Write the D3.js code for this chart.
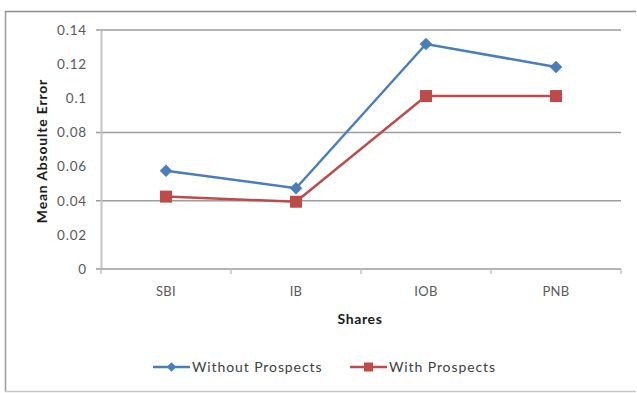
<!DOCTYPE html>
<html>
<head>
<meta charset="utf-8">
<script src="https://cdn.jsdelivr.net/npm/d3@7"></script>
<style>
  body { margin: 0; background: #fff; }
  text { font-family: Lato, "Open Sans", sans-serif; }
</style>
</head>
<body>
<script>
// Les données
var shares = ["SBI", "IB", "IOB", "PNB"];
var withoutProspects = [0.0576, 0.0473, 0.1318, 0.1183];
var withProspects = [0.0424, 0.0394, 0.1013, 0.1013];
var yTicks = [0, 0.02, 0.04, 0.06, 0.08, 0.1, 0.12, 0.14];
var gridTicks = [0.04, 0.08, 0.14];

var series = [
  {name: "Without Prospects", values: withoutProspects, color: "#4a7ebb", marker: "diamond"},
  {name: "With Prospects", values: withProspects, color: "#be4b48", marker: "square"}
];

var W = 637, H = 393;
var plot = {left: 101, right: 621, top: 30, bottom: 269};

var svg = d3.select("body").append("svg")
            .attr("width", W)
            .attr("height", H);

// cadre extérieur
svg.append("line").attr("x1", 5).attr("x2", 636).attr("y1", 11.5).attr("y2", 11.5)
   .attr("stroke", "#8a8a8a").attr("stroke-width", 1.5);
svg.append("line").attr("x1", 5.5).attr("x2", 5.5).attr("y1", 11).attr("y2", 392)
   .attr("stroke", "#9a9a9a").attr("stroke-width", 1.5);
svg.append("line").attr("x1", 5).attr("x2", 636).attr("y1", 391.5).attr("y2", 391.5)
   .attr("stroke", "#c8c8c8").attr("stroke-width", 1.5);

var x = d3.scaleBand().domain(shares).range([plot.left, plot.right]);
var y = d3.scaleLinear().domain([0, 0.14]).range([plot.bottom, plot.top]);

// grille
svg.append("g").selectAll("line")
   .data(gridTicks).join("line")
   .attr("x1", plot.left - 5).attr("x2", plot.right)
   .attr("y1", d => y(d)).attr("y2", d => y(d))
   .attr("stroke", "#9c9c9c").attr("stroke-width", 1.5);

// axe Y
var axeY = d3.axisLeft(y).tickValues(yTicks)
             .tickFormat(d => d3.format("")(+d.toFixed(2)))
             .tickSize(0).tickPadding(14);
var gY = svg.append("g").attr("transform", "translate(" + plot.left + ",0)").call(axeY);
gY.select(".domain").attr("stroke", "#c4c4c4").attr("stroke-width", 2);
gY.selectAll("text").style("font-size", "13.5px").style("letter-spacing", "0.8px")
  .attr("fill", "#595959");

// axe X
svg.append("line").attr("x1", plot.left - 5).attr("x2", plot.right)
   .attr("y1", plot.bottom).attr("y2", plot.bottom)
   .attr("stroke", "#9c9c9c").attr("stroke-width", 1.5);
svg.append("g").selectAll("line")
   .data(shares.concat(["end"])).join("line")
   .attr("x1", (d, i) => plot.left + i * x.bandwidth())
   .attr("x2", (d, i) => plot.left + i * x.bandwidth())
   .attr("y1", plot.bottom).attr("y2", plot.bottom + 5)
   .attr("stroke", "#c4c4c4").attr("stroke-width", 1.5);
svg.append("g").selectAll("text")
   .data(shares).join("text")
   .attr("x", d => x(d) + x.bandwidth() / 2)
   .attr("y", 296)
   .attr("text-anchor", "middle")
   .style("font-size", "13px").style("letter-spacing", "0.3px")
   .attr("fill", "#595959")
   .text(d => d);

// titres
svg.append("text").attr("x", 360).attr("y", 324).attr("text-anchor", "middle")
   .style("font-size", "14px").style("font-weight", "bold").style("letter-spacing", "0.6px")
   .attr("fill", "#1a1a1a")
   .text("Shares");
svg.append("text").attr("transform", "translate(47,151) rotate(-90)")
   .attr("text-anchor", "middle")
   .style("font-size", "14px").style("font-weight", "bold").style("letter-spacing", "0.8px")
   .attr("fill", "#1a1a1a")
   .text("Mean Absoulte Error");

// lignes et marqueurs
var ligne = d3.line()
              .x((d, i) => x(shares[i]) + x.bandwidth() / 2)
              .y(d => y(d));

function marker(g, s, size) {
  g.attr("d", d3.symbol().type(d3.symbolSquare).size(s.marker == "diamond" ? size * 0.55 : size))
   .attr("fill", s.color);
}

series.forEach(function(s) {
  svg.append("path")
     .attr("d", ligne(s.values))
     .attr("fill", "none")
     .attr("stroke", s.color)
     .attr("stroke-width", 2.5);
  svg.append("g").selectAll("path")
     .data(s.values).join("path")
     .attr("transform", (d, i) => "translate(" + (x(shares[i]) + x.bandwidth() / 2) + "," + y(d) + ")"
           + (s.marker == "diamond" ? " rotate(45)" : ""))
     .call(marker, s, 144);
});

// légende
var legX = [153, 350];
series.forEach(function(s, i) {
  var g = svg.append("g").attr("transform", "translate(" + legX[i] + ",367)");
  g.append("line").attr("x1", 0).attr("x2", 37).attr("y1", 0).attr("y2", 0)
   .attr("stroke", s.color).attr("stroke-width", 2.5);
  g.append("path").attr("transform", "translate(18.5,0)" + (s.marker == "diamond" ? " rotate(45)" : ""))
   .call(marker, s, 81);
  g.append("text").attr("x", 39).attr("y", 5)
   .style("font-size", "14px").style("letter-spacing", "0.9px")
   .attr("fill", "#404040")
   .text(s.name);
});
</script>
</body>
</html>
